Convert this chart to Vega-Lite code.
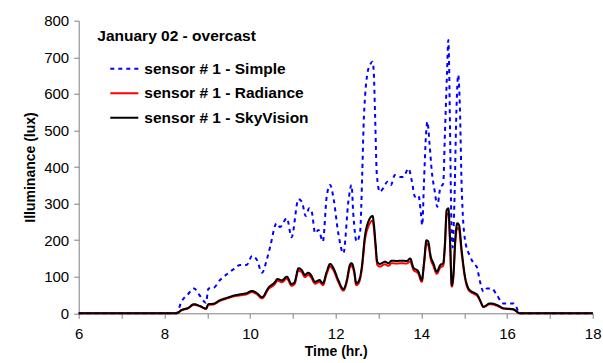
{
  "$schema": "https://vega.github.io/schema/vega-lite/v6.json",
  "width": 514,
  "height": 292.6,
  "autosize": "none",
  "padding": {"left": 78.7, "top": 20.7, "right": 10.3, "bottom": 49.7},
  "background": "white",
  "datasets": {
    "simple": [
      {"t": 6.0, "v": 0}, {"t": 8.28, "v": 0}, {"t": 8.40, "v": 32}, {"t": 8.55, "v": 52}, {"t": 8.69, "v": 68},
      {"t": 8.83, "v": 48}, {"t": 8.97, "v": 29}, {"t": 9.03, "v": 68}, {"t": 9.14, "v": 69}, {"t": 9.30, "v": 91},
      {"t": 9.45, "v": 106}, {"t": 9.61, "v": 120}, {"t": 9.77, "v": 132}, {"t": 9.92, "v": 132}, {"t": 10.05, "v": 157},
      {"t": 10.16, "v": 146}, {"t": 10.28, "v": 111}, {"t": 10.39, "v": 146}, {"t": 10.47, "v": 182}, {"t": 10.62, "v": 246},
      {"t": 10.70, "v": 236}, {"t": 10.86, "v": 260}, {"t": 10.97, "v": 208}, {"t": 11.13, "v": 312}, {"t": 11.21, "v": 305},
      {"t": 11.30, "v": 266}, {"t": 11.38, "v": 287}, {"t": 11.44, "v": 278}, {"t": 11.52, "v": 219}, {"t": 11.60, "v": 228},
      {"t": 11.70, "v": 196}, {"t": 11.79, "v": 319}, {"t": 11.87, "v": 351}, {"t": 11.95, "v": 314}, {"t": 12.06, "v": 219},
      {"t": 12.18, "v": 164}, {"t": 12.30, "v": 310}, {"t": 12.37, "v": 351}, {"t": 12.41, "v": 273}, {"t": 12.49, "v": 196},
      {"t": 12.57, "v": 223}, {"t": 12.62, "v": 383}, {"t": 12.65, "v": 510}, {"t": 12.69, "v": 600}, {"t": 12.74, "v": 656},
      {"t": 12.80, "v": 679}, {"t": 12.86, "v": 688}, {"t": 12.89, "v": 656}, {"t": 12.92, "v": 540}, {"t": 12.96, "v": 380},
      {"t": 13.03, "v": 332}, {"t": 13.11, "v": 342}, {"t": 13.21, "v": 360}, {"t": 13.29, "v": 351}, {"t": 13.38, "v": 378},
      {"t": 13.50, "v": 373}, {"t": 13.58, "v": 373}, {"t": 13.70, "v": 396}, {"t": 13.78, "v": 360}, {"t": 13.85, "v": 319},
      {"t": 13.93, "v": 323}, {"t": 13.99, "v": 273}, {"t": 14.02, "v": 241}, {"t": 14.06, "v": 355}, {"t": 14.11, "v": 492},
      {"t": 14.14, "v": 524}, {"t": 14.19, "v": 465}, {"t": 14.24, "v": 392}, {"t": 14.32, "v": 328}, {"t": 14.37, "v": 291},
      {"t": 14.44, "v": 342}, {"t": 14.51, "v": 355}, {"t": 14.55, "v": 492}, {"t": 14.60, "v": 660}, {"t": 14.63, "v": 747},
      {"t": 14.67, "v": 500}, {"t": 14.70, "v": 250}, {"t": 14.73, "v": 180}, {"t": 14.77, "v": 300}, {"t": 14.82, "v": 560},
      {"t": 14.86, "v": 652}, {"t": 14.90, "v": 560}, {"t": 14.94, "v": 350}, {"t": 15.02, "v": 200}, {"t": 15.14, "v": 155},
      {"t": 15.25, "v": 132}, {"t": 15.29, "v": 128}, {"t": 15.37, "v": 86}, {"t": 15.45, "v": 59}, {"t": 15.53, "v": 68},
      {"t": 15.64, "v": 68}, {"t": 15.76, "v": 50}, {"t": 15.91, "v": 27}, {"t": 16.15, "v": 27}, {"t": 16.23, "v": 14},
      {"t": 16.28, "v": 0}, {"t": 18.0, "v": 0}
    ],
    "radiance": [
      {"t": 6.0, "v": 0}, {"t": 8.28, "v": 0}, {"t": 8.40, "v": 8}, {"t": 8.56, "v": 14}, {"t": 8.69, "v": 23},
      {"t": 8.83, "v": 19}, {"t": 8.97, "v": 12}, {"t": 9.03, "v": 23}, {"t": 9.14, "v": 24}, {"t": 9.30, "v": 34},
      {"t": 9.45, "v": 40}, {"t": 9.61, "v": 46}, {"t": 9.77, "v": 49}, {"t": 9.92, "v": 52}, {"t": 10.04, "v": 58},
      {"t": 10.16, "v": 52}, {"t": 10.28, "v": 41}, {"t": 10.43, "v": 66}, {"t": 10.58, "v": 80}, {"t": 10.64, "v": 89},
      {"t": 10.74, "v": 85}, {"t": 10.86, "v": 95}, {"t": 10.97, "v": 75}, {"t": 11.04, "v": 80}, {"t": 11.13, "v": 117},
      {"t": 11.21, "v": 112}, {"t": 11.28, "v": 99}, {"t": 11.36, "v": 105}, {"t": 11.42, "v": 99}, {"t": 11.52, "v": 81},
      {"t": 11.62, "v": 86}, {"t": 11.70, "v": 77}, {"t": 11.79, "v": 108}, {"t": 11.87, "v": 128}, {"t": 11.95, "v": 117},
      {"t": 12.06, "v": 86}, {"t": 12.18, "v": 62}, {"t": 12.26, "v": 86}, {"t": 12.33, "v": 125}, {"t": 12.37, "v": 130},
      {"t": 12.43, "v": 112}, {"t": 12.48, "v": 77}, {"t": 12.53, "v": 81}, {"t": 12.61, "v": 120}, {"t": 12.68, "v": 198},
      {"t": 12.76, "v": 237}, {"t": 12.86, "v": 253}, {"t": 12.89, "v": 234}, {"t": 12.93, "v": 181}, {"t": 12.97, "v": 133},
      {"t": 13.03, "v": 128}, {"t": 13.15, "v": 134}, {"t": 13.23, "v": 130}, {"t": 13.31, "v": 137}, {"t": 13.42, "v": 136},
      {"t": 13.54, "v": 137}, {"t": 13.66, "v": 136}, {"t": 13.74, "v": 142}, {"t": 13.81, "v": 120}, {"t": 13.93, "v": 108},
      {"t": 14.01, "v": 86}, {"t": 14.06, "v": 130}, {"t": 14.12, "v": 190}, {"t": 14.16, "v": 186}, {"t": 14.22, "v": 147},
      {"t": 14.28, "v": 130}, {"t": 14.36, "v": 108}, {"t": 14.44, "v": 125}, {"t": 14.51, "v": 130}, {"t": 14.55, "v": 181},
      {"t": 14.59, "v": 268}, {"t": 14.63, "v": 273}, {"t": 14.67, "v": 190}, {"t": 14.71, "v": 73}, {"t": 14.75, "v": 103},
      {"t": 14.79, "v": 190}, {"t": 14.84, "v": 234}, {"t": 14.88, "v": 229}, {"t": 14.94, "v": 164}, {"t": 15.02, "v": 95},
      {"t": 15.10, "v": 64}, {"t": 15.18, "v": 56}, {"t": 15.25, "v": 52}, {"t": 15.31, "v": 47}, {"t": 15.37, "v": 34},
      {"t": 15.45, "v": 17}, {"t": 15.60, "v": 25}, {"t": 15.76, "v": 21}, {"t": 15.91, "v": 13}, {"t": 16.15, "v": 10},
      {"t": 16.30, "v": 0}, {"t": 18.0, "v": 0}
    ],
    "skyvision": [
      {"t": 6.0, "v": 0}, {"t": 8.28, "v": 0}, {"t": 8.40, "v": 9}, {"t": 8.56, "v": 15}, {"t": 8.69, "v": 25},
      {"t": 8.83, "v": 20}, {"t": 8.97, "v": 13}, {"t": 9.03, "v": 25}, {"t": 9.14, "v": 26}, {"t": 9.30, "v": 36},
      {"t": 9.45, "v": 42}, {"t": 9.61, "v": 48}, {"t": 9.77, "v": 52}, {"t": 9.92, "v": 55}, {"t": 10.04, "v": 61},
      {"t": 10.16, "v": 55}, {"t": 10.28, "v": 44}, {"t": 10.43, "v": 70}, {"t": 10.58, "v": 85}, {"t": 10.64, "v": 94},
      {"t": 10.74, "v": 90}, {"t": 10.86, "v": 100}, {"t": 10.97, "v": 80}, {"t": 11.04, "v": 85}, {"t": 11.13, "v": 123},
      {"t": 11.21, "v": 118}, {"t": 11.28, "v": 105}, {"t": 11.36, "v": 111}, {"t": 11.42, "v": 105}, {"t": 11.52, "v": 86},
      {"t": 11.62, "v": 91}, {"t": 11.70, "v": 82}, {"t": 11.79, "v": 114}, {"t": 11.87, "v": 135}, {"t": 11.95, "v": 123},
      {"t": 12.06, "v": 91}, {"t": 12.18, "v": 66}, {"t": 12.26, "v": 91}, {"t": 12.33, "v": 132}, {"t": 12.37, "v": 137},
      {"t": 12.43, "v": 118}, {"t": 12.48, "v": 82}, {"t": 12.53, "v": 86}, {"t": 12.61, "v": 127}, {"t": 12.68, "v": 209},
      {"t": 12.76, "v": 250}, {"t": 12.86, "v": 266}, {"t": 12.89, "v": 246}, {"t": 12.93, "v": 191}, {"t": 12.97, "v": 141},
      {"t": 13.03, "v": 135}, {"t": 13.15, "v": 141}, {"t": 13.23, "v": 137}, {"t": 13.31, "v": 144}, {"t": 13.42, "v": 143},
      {"t": 13.54, "v": 144}, {"t": 13.66, "v": 143}, {"t": 13.74, "v": 150}, {"t": 13.81, "v": 126}, {"t": 13.93, "v": 114},
      {"t": 14.01, "v": 91}, {"t": 14.06, "v": 137}, {"t": 14.12, "v": 200}, {"t": 14.16, "v": 196}, {"t": 14.22, "v": 155},
      {"t": 14.28, "v": 137}, {"t": 14.36, "v": 114}, {"t": 14.44, "v": 132}, {"t": 14.51, "v": 137}, {"t": 14.55, "v": 191},
      {"t": 14.59, "v": 282}, {"t": 14.63, "v": 287}, {"t": 14.67, "v": 200}, {"t": 14.71, "v": 77}, {"t": 14.75, "v": 109},
      {"t": 14.79, "v": 200}, {"t": 14.84, "v": 246}, {"t": 14.88, "v": 241}, {"t": 14.94, "v": 173}, {"t": 15.02, "v": 100},
      {"t": 15.10, "v": 68}, {"t": 15.18, "v": 59}, {"t": 15.25, "v": 55}, {"t": 15.31, "v": 50}, {"t": 15.37, "v": 36},
      {"t": 15.45, "v": 18}, {"t": 15.60, "v": 27}, {"t": 15.76, "v": 23}, {"t": 15.91, "v": 14}, {"t": 16.15, "v": 11},
      {"t": 16.30, "v": 0}, {"t": 18.0, "v": 0}
    ]
  },
  "encoding": {
    "x": {
      "field": "t", "type": "quantitative",
      "scale": {"domain": [6, 18], "nice": false, "zero": false},
      "axis": {
        "title": "Time (hr.)",
        "values": [6, 7, 8, 9, 10, 11, 12, 13, 14, 15, 16, 17, 18],
        "labelExpr": "datum.value % 2 === 0 ? datum.label : ''",
        "grid": false,
        "tickSize": 5,
        "labelPadding": 8,
        "titlePadding": 3,
        "labelFlush": false,
        "labelOverlap": false
      }
    },
    "y": {
      "field": "v", "type": "quantitative",
      "scale": {"domain": [0, 800], "nice": false},
      "axis": {
        "title": "Illuminance (lux)",
        "values": [0, 100, 200, 300, 400, 500, 600, 700, 800],
        "grid": false,
        "tickSize": 5,
        "labelPadding": 5,
        "titlePadding": 6,
        "labelOverlap": false
      }
    }
  },
  "layer": [
    {
      "data": {"name": "simple"},
      "mark": {"type": "line", "interpolate": "monotone"},
      "encoding": {
        "color": {"datum": "sensor # 1 - Simple", "type": "nominal"},
        "strokeDash": {"datum": "sensor # 1 - Simple", "type": "nominal"},
        "strokeWidth": {"datum": "sensor # 1 - Simple", "type": "ordinal"}
      }
    },
    {
      "data": {"name": "radiance"},
      "mark": {"type": "line", "interpolate": "monotone"},
      "encoding": {
        "color": {"datum": "sensor # 1 - Radiance", "type": "nominal"},
        "strokeDash": {"datum": "sensor # 1 - Radiance", "type": "nominal"},
        "strokeWidth": {"datum": "sensor # 1 - Radiance", "type": "ordinal"}
      }
    },
    {
      "data": {"name": "skyvision"},
      "mark": {"type": "line", "interpolate": "monotone"},
      "encoding": {
        "color": {
          "datum": "sensor # 1 - SkyVision", "type": "nominal",
          "scale": {"domain": ["sensor # 1 - Simple", "sensor # 1 - Radiance", "sensor # 1 - SkyVision"], "range": ["#0000ff", "#ff0000", "#000000"]},
          "legend": {"title": "January 02 - overcast"}
        },
        "strokeDash": {
          "datum": "sensor # 1 - SkyVision", "type": "nominal",
          "scale": {"domain": ["sensor # 1 - Simple", "sensor # 1 - Radiance", "sensor # 1 - SkyVision"], "range": [[4, 4], [1, 0], [1, 0]]},
          "legend": {"title": "January 02 - overcast"}
        },
        "strokeWidth": {
          "datum": "sensor # 1 - SkyVision", "type": "ordinal",
          "scale": {"domain": ["sensor # 1 - Simple", "sensor # 1 - Radiance", "sensor # 1 - SkyVision"], "range": [2, 2, 3]},
          "legend": {"title": "January 02 - overcast"}
        }
      }
    }
  ],
  "config": {
    "view": {"stroke": null},
    "font": "Liberation Sans",
    "axis": {
      "domainColor": "#808080",
      "tickColor": "#808080",
      "domainWidth": 1,
      "labelFont": "Liberation Sans",
      "labelFontSize": 15,
      "labelColor": "#000000",
      "titleFont": "Liberation Sans",
      "titleFontSize": 14,
      "titleFontWeight": "bold",
      "titleColor": "#000000"
    },
    "legend": {
      "orient": "none",
      "legendX": 18.6,
      "legendY": 8.5,
      "padding": 0,
      "symbolType": "stroke",
      "symbolSize": 784,
      "symbolOffset": 12,
      "labelFont": "Liberation Sans",
      "labelFontSize": 15.5,
      "labelFontWeight": "bold",
      "labelColor": "#000000",
      "labelOffset": 5,
      "rowPadding": 0.5,
      "labelLimit": 300,
      "titleFont": "Liberation Sans",
      "titleFontSize": 15.5,
      "titleFontWeight": "bold",
      "titleColor": "#000000",
      "titlePadding": 9,
      "titleLimit": 400
    }
  }
}
